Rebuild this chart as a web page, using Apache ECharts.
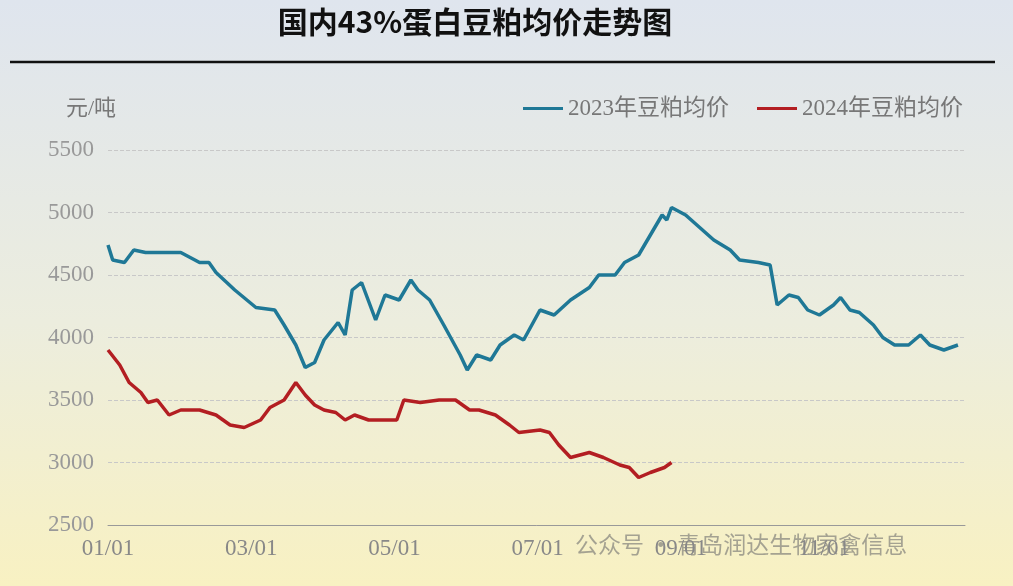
<!DOCTYPE html>
<html>
<head>
<meta charset="utf-8">
<title>国内43%蛋白豆粕均价走势图</title>
<script src="https://cdn.jsdelivr.net/npm/echarts@6/dist/echarts.min.js"></script>
<style>
  html,body{margin:0;padding:0;}
  #main{width:1013px;height:586px;background:linear-gradient(to bottom,#dfe5ee 0%,#ecedde 55%,#f8f1c2 100%);}
</style>
</head>
<body>
<div id="main"></div>
<script>
// 天数（从1月1日起）与价格
var days2023 = [0,2,7,11,16,31,35,39,43,46,54,63,71,75,80,84,88,92,98,101,104,108,114,118,124,129,132,137,143,150,153,157,163,167,173,177,184,190,197,205,209,216,220,226,231,236,238,240,246,252,258,265,269,277,282,285,290,294,298,303,309,312,316,320,326,330,335,341,346,350,356,362];
var price2023 = [4740,4620,4600,4700,4680,4680,4640,4600,4600,4520,4380,4240,4220,4100,3940,3760,3800,3980,4120,4020,4380,4440,4140,4340,4300,4460,4380,4300,4100,3860,3740,3860,3820,3940,4020,3980,4220,4180,4300,4400,4500,4500,4600,4660,4820,4980,4940,5040,4980,4880,4780,4700,4620,4600,4580,4260,4340,4320,4220,4180,4260,4320,4220,4200,4100,4000,3940,3940,4020,3940,3900,3940];
var days2024 = [0,5,9,14,17,21,26,31,39,46,52,58,65,69,75,80,84,88,92,97,101,105,111,118,123,126,133,141,148,154,158,165,171,175,184,188,192,197,205,211,218,222,226,231,237,240];
var price2024 = [3900,3780,3640,3560,3480,3500,3380,3420,3420,3380,3300,3280,3340,3440,3500,3640,3540,3460,3420,3400,3340,3380,3340,3340,3340,3500,3480,3500,3500,3420,3420,3380,3300,3240,3260,3240,3140,3040,3080,3040,2980,2960,2880,2920,2960,3000];
var tickLabels = {0:'01/01',61:'03/01',122:'05/01',183:'07/01',244:'09/01',305:'11/01'};

var serif = '"Liberation Serif","DejaVu Serif","Noto Sans CJK SC",serif';

function pairs(d, v){
  var out = [];
  for(var i=0;i<d.length;i++){ out.push([d[i], v[i]]); }
  return out;
}

var chart = echarts.init(document.getElementById('main'));
chart.setOption({
  animation:false,
  title:{
    text:'国内43%蛋白豆粕均价走势图', left:470, top:2, textAlign:'center',
    textStyle:{fontSize:30,fontWeight:'bold',color:'#111',fontFamily:'Noto Sans CJK SC'}
  },
  graphic:[
    {type:'line',shape:{x1:10,y1:62,x2:995,y2:62},style:{stroke:'#111',lineWidth:2.5}},
    {type:'text',left:575,top:533,style:{text:'公众号 · 青岛润达生物家禽信息',fill:'rgba(110,110,110,0.6)',fontSize:23,fontFamily:'Noto Sans CJK SC'}}
  ],
  legend:{
    right:45, top:92, itemWidth:40, itemGap:28, icon:'rect', itemHeight:3,
    textStyle:{fontSize:23,color:'#777',fontFamily:serif},
    data:['2023年豆粕均价','2024年豆粕均价']
  },
  grid:{left:108,right:48,top:150,bottom:61},
  xAxis:{
    type:'value', min:0, max:365, interval:61,
    axisLine:{lineStyle:{color:'#999'}},
    axisTick:{show:false},
    splitLine:{show:false},
    axisLabel:{fontSize:23,color:'#888',margin:12,fontFamily:serif,formatter:function(v){return tickLabels[v]||'';}}
  },
  yAxis:{
    type:'value', min:2500, max:5500, interval:500,
    name:'元/吨', nameLocation:'end', nameGap:30,
    nameTextStyle:{fontSize:22,color:'#777',align:'right',padding:[0,-8,0,0],fontFamily:serif},
    axisLine:{show:false}, axisTick:{show:false},
    axisLabel:{fontSize:23,color:'#999',margin:14,fontFamily:serif,formatter:function(v){return String(v);}},
    splitLine:{lineStyle:{type:'dashed',color:'#c8c8c8'}}
  },
  series:[
    {name:'2023年豆粕均价',type:'line',data:pairs(days2023,price2023),showSymbol:false,
     lineStyle:{width:3.5,color:'#1f7896'},itemStyle:{color:'#1f7896'}},
    {name:'2024年豆粕均价',type:'line',data:pairs(days2024,price2024),showSymbol:false,
     lineStyle:{width:3.5,color:'#b31e22'},itemStyle:{color:'#b31e22'}}
  ]
});
</script>
</body>
</html>
